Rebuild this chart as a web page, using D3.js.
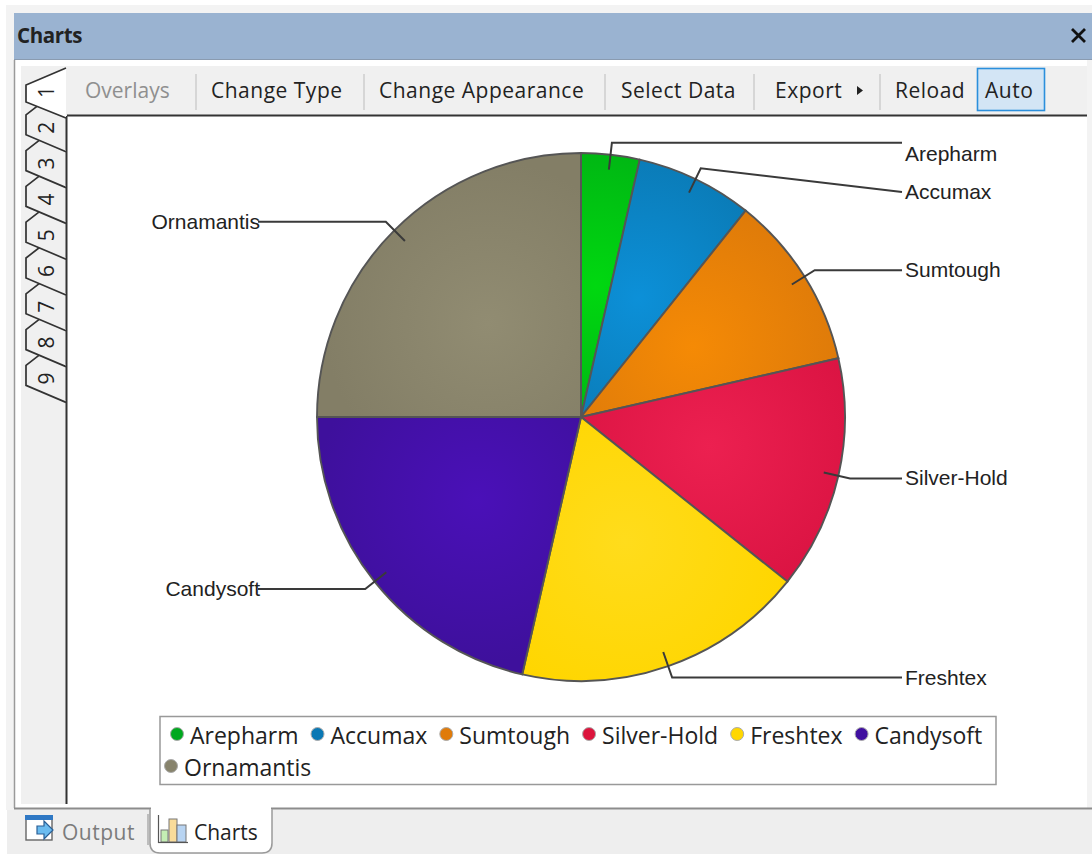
<!DOCTYPE html>
<html>
<head>
<meta charset="utf-8">
<script src="https://cdn.jsdelivr.net/npm/d3@7"></script>
<style>
  html, body { margin: 0; padding: 0; background: #fff; }
  svg { display: block; }
  .ui { font-family: "Open Sans", "Noto Sans", sans-serif; font-size: 21px; fill: #222; }
  .lbl { font-family: "Liberation Sans", Arial, sans-serif; font-size: 21px; fill: #222; }
  .leg { font-family: "Open Sans", "Noto Sans", sans-serif; font-size: 23px; fill: #222; }
</style>
</head>
<body>
<div id="chart"></div>
<script>
// data
const names = ["Arepharm", "Accumax", "Sumtough", "Silver-Hold", "Freshtex", "Candysoft", "Ornamantis"];
const shares = [1, 2, 3, 4, 5, 6, 7];
const colors = ["#00a81e", "#0a78b4", "#e07b0a", "#dc143c", "#ffd700", "#4010a0", "#87836c"];
const glowColors = ["#00d810", "#0c90d8", "#f58a05", "#ec2050", "#ffdc1c", "#4a10b8", "#918c72"];
const rimColors = ["#00b014", "#0a78b2", "#dc790a", "#da1342", "#ffd600", "#3e109c", "#837e66"];
const toolbarItems = ["Overlays", "Change Type", "Change Appearance", "Select Data", "Export", "Reload", "Auto"];
const tabNumbers = ["1", "2", "3", "4", "5", "6", "7", "8", "9"];

const width = 1092, height = 857;
const cx = 581, cy = 417, radius = 264;

const svg = d3.select("#chart").append("svg")
    .attr("width", width)
    .attr("height", height);

// window frame
svg.append("rect").attr("width", width).attr("height", height).attr("fill", "#fff");
svg.append("rect").attr("x", 6).attr("y", 5).attr("width", width - 6).attr("height", 847).attr("fill", "#f3f3f3");
svg.append("rect").attr("x", 14).attr("y", 13).attr("width", width - 14).attr("height", 46).attr("fill", "#9ab3d1");
svg.append("line").attr("x1", 14).attr("x2", width).attr("y1", 59.5).attr("y2", 59.5).attr("stroke", "#8a9bb0");
svg.append("text").attr("class", "ui").attr("x", 17).attr("y", 43)
    .style("font-weight", 700).style("font-size", "20.5px").style("letter-spacing", "-0.4px").text("Charts");
svg.append("path").attr("d", "M1072 29L1085 42M1085 29L1072 42").attr("stroke", "#111").attr("stroke-width", 2.8);

// panel
svg.append("rect").attr("x", 14).attr("y", 60).attr("width", width - 19).attr("height", 748).attr("fill", "#fff");
svg.append("rect").attr("x", 21).attr("y", 66).attr("width", 46).attr("height", 738).attr("fill", "#f0f0f0");
svg.append("rect").attr("x", 67).attr("y", 66).attr("width", 1020).attr("height", 49).attr("fill", "#f0f0f0");
svg.append("line").attr("x1", 14.5).attr("x2", 14.5).attr("y1", 60).attr("y2", 808).attr("stroke", "#9a9a9a").attr("stroke-width", 1.5);
svg.append("line").attr("x1", 67).attr("x2", 1087).attr("y1", 115.5).attr("y2", 115.5).attr("stroke", "#333").attr("stroke-width", 2);
svg.append("line").attr("x1", 66.5).attr("x2", 66.5).attr("y1", 116).attr("y2", 804).attr("stroke", "#333").attr("stroke-width", 2);
svg.append("line").attr("x1", 14).attr("x2", width).attr("y1", 808.5).attr("y2", 808.5).attr("stroke", "#8c8c8c").attr("stroke-width", 2);
svg.append("rect").attr("x", 0).attr("y", 810).attr("width", width).attr("height", 44).attr("fill", "#eeeeee");
svg.append("rect").attr("x", 0).attr("y", 810).attr("width", 7).attr("height", 47).attr("fill", "#fff");

// side tabs, drawn bottom up so the lower ones sit behind
const tabStep = 35.8;
const tabs = svg.append("g");
tabNumbers.slice().reverse().forEach(function (t) {
  const i = +t - 1;
  const y = 116 + tabStep * i; // lower right corner of the tab
  const p = d3.path();
  if (i === 0) {
    p.moveTo(66, y + 2);
    p.lineTo(26, y - 14);
    p.lineTo(26, y - 31);
    p.lineTo(66, y - 48);
  } else {
    p.moveTo(66, y);
    p.lineTo(26, y - 17);
    p.lineTo(26, y - 37);
    p.lineTo(44, y - 51);
  }
  tabs.append("path").attr("d", p.toString())
      .attr("fill", i === 0 ? "#fff" : "#f0f0f0")
      .attr("stroke", "#333").attr("stroke-width", 1.7);
  tabs.append("text").attr("class", "ui")
      .attr("transform", `translate(54,${y - 24}) rotate(-90)`)
      .attr("text-anchor", "middle")
      .style("font-size", "21px")
      .text(t);
});

// toolbar
const toolX = [85, 211, 379, 621, 775, 895, 985];
const sepX = [196, 364, 605, 754, 880];
svg.append("rect").attr("x", 977.5).attr("y", 68.5).attr("width", 67).attr("height", 42)
    .attr("fill", "#d3e5f5").attr("stroke", "#2b8fdc").attr("stroke-width", 1.6);
svg.selectAll(".sep").data(sepX).join("line").attr("class", "sep")
    .attr("x1", d => d).attr("x2", d => d).attr("y1", 74).attr("y2", 110)
    .attr("stroke", "#d0d0d0").attr("stroke-width", 1.6);
svg.selectAll(".tool").data(toolbarItems).join("text").attr("class", "ui tool")
    .attr("x", (d, i) => toolX[i]).attr("y", 98)
    .style("fill", d => d === "Overlays" ? "#8f8f8f" : "#222")
    .style("letter-spacing", d => d === "Overlays" ? "0px" : "0.5px")
    .text(d => d);
svg.append("path").attr("d", "M857 86L863 90.5L857 95Z").attr("fill", "#222");

// bottom tabs
svg.append("path").attr("d", "M150 809L150 843Q150 853 160 853L262 853Q272 853 272 843L272 809")
    .attr("fill", "#fff").attr("stroke", "#9a9a9a").attr("stroke-width", 1.5);
svg.append("rect").attr("x", 151).attr("y", 806).attr("width", 120).attr("height", 5).attr("fill", "#fff");
svg.append("line").attr("x1", 148).attr("x2", 148).attr("y1", 814).attr("y2", 845).attr("stroke", "#a8a8a8").attr("stroke-width", 1.4);
svg.append("text").attr("class", "ui").attr("x", 62).attr("y", 840).style("fill", "#7b7b7b").style("letter-spacing", "0.5px").text("Output");
svg.append("text").attr("class", "ui").attr("x", 194).attr("y", 840).text("Charts");
// output icon
svg.append("rect").attr("x", 26).attr("y", 816).attr("width", 26).attr("height", 24).attr("fill", "#fff").attr("stroke", "#666").attr("stroke-width", 1.4);
svg.append("rect").attr("x", 25).attr("y", 815).attr("width", 28).attr("height", 5).attr("fill", "#2f78c4");
svg.append("path").attr("d", "M37 826L44 826L44 821L53 830L44 839L44 834L37 834Z").attr("fill", "#6bbcf0").attr("stroke", "#2a5f95").attr("stroke-width", 1.2);
// charts icon
svg.append("rect").attr("x", 161).attr("y", 830).attr("width", 7).attr("height", 12).attr("fill", "#c4eeb4").attr("stroke", "#777");
svg.append("rect").attr("x", 169).attr("y", 819).attr("width", 8).attr("height", 23).attr("fill", "#f9dc9a").attr("stroke", "#777");
svg.append("rect").attr("x", 177).attr("y", 825).attr("width", 9).attr("height", 17).attr("fill", "#b8d4f2").attr("stroke", "#777");
svg.append("line").attr("x1", 158.5).attr("x2", 158.5).attr("y1", 815).attr("y2", 843).attr("stroke", "#555").attr("stroke-width", 1.2);
svg.append("line").attr("x1", 158).attr("x2", 188).attr("y1", 842.5).attr("y2", 842.5).attr("stroke", "#555").attr("stroke-width", 1.2);

// pie
const pie = d3.pie().value(d => d).sort(null);
const arcs = pie(shares);
const arc = d3.arc().innerRadius(0).outerRadius(radius);
const pointArc = d3.arc(); // used to get a point along the middle of a slice
function midPoint(d, r) {
  return pointArc.innerRadius(r).outerRadius(r)
      .startAngle(d.startAngle).endAngle(d.endAngle).centroid();
}

// each slice glows around its own middle
const defs = svg.append("defs");
arcs.forEach(function (d, i) {
  const c = midPoint(d, radius * 0.5);
  const g = defs.append("radialGradient").attr("id", "slice" + i)
      .attr("gradientUnits", "userSpaceOnUse")
      .attr("cx", c[0]).attr("cy", c[1]).attr("r", radius * 0.62);
  g.append("stop").attr("offset", "0%").attr("stop-color", glowColors[i]);
  g.append("stop").attr("offset", "100%").attr("stop-color", rimColors[i]);
});

const chart = svg.append("g").attr("transform", `translate(${cx},${cy})`);
chart.selectAll("path.slice").data(arcs).join("path").attr("class", "slice")
    .attr("d", arc)
    .attr("fill", (d, i) => `url(#slice${i})`)
    .attr("stroke", "#555")
    .attr("stroke-width", 1.9);

// leader lines: start inside the slice, bend just outside the rim, run to the label
const labelEdgeRight = 902 - cx, labelEdgeLeft = 258 - cx;
const lineEndY = { "Accumax": 192 - cy };
const labelY = { "Arepharm": 154 - cy, "Accumax": 192 - cy };
const leader = d3.line();
arcs.forEach(function (d, i) {
  const a = midPoint(d, 249);
  const b = midPoint(d, 276);
  const right = (d.startAngle + d.endAngle) / 2 < Math.PI;
  const endX = right ? labelEdgeRight : labelEdgeLeft;
  const endY = lineEndY[names[i]] !== undefined ? lineEndY[names[i]] : b[1];
  chart.append("path").attr("d", leader([a, b, [endX, endY]]))
      .attr("fill", "none").attr("stroke", "#3a3a3a").attr("stroke-width", 2);
  chart.append("text").attr("class", "lbl")
      .attr("x", right ? endX + 3 : endX + 2)
      .attr("y", (labelY[names[i]] !== undefined ? labelY[names[i]] : b[1]) + 7)
      .attr("text-anchor", right ? "start" : "end")
      .text(names[i]);
});

// legend, items flow left to right and wrap
const legend = svg.append("g");
legend.append("rect").attr("x", 160).attr("y", 716.5).attr("width", 836).attr("height", 68)
    .attr("fill", "#fff").attr("stroke", "#999").attr("stroke-width", 1.5);
let lx = 170, ly = 734;
names.forEach(function (n, i) {
  const label = legend.append("text").attr("class", "leg").attr("y", ly + 10).text(n);
  const w = label.node().getComputedTextLength();
  if (lx + 20 + w > 986) {
    lx = 164;
    ly += 32;
    label.attr("y", ly + 10);
  }
  legend.append("circle").attr("cx", lx + 7).attr("cy", ly).attr("r", 6.5)
      .attr("fill", colors[i]).attr("stroke", "#aaa").attr("stroke-width", 1);
  label.attr("x", lx + 20);
  lx += 20 + w + 12;
});
</script>
</body>
</html>
